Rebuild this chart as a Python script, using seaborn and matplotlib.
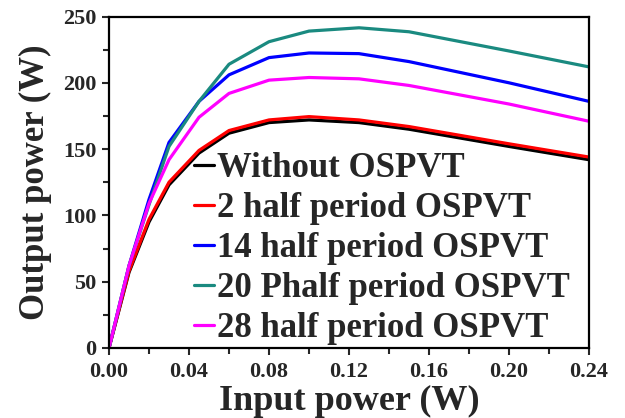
import matplotlib
matplotlib.use("Agg")
import matplotlib.pyplot as plt
import numpy as np
import pandas as pd
import seaborn as sns
from matplotlib.ticker import MultipleLocator

# Input power (W)
input_power = [0.0, 0.01, 0.02, 0.03, 0.045, 0.06, 0.08, 0.10, 0.125, 0.15, 0.20, 0.24]

# Output power (W) for each configuration
without_ospvt = [0, 57, 95, 123, 147, 162, 170, 172, 170, 165, 152, 142]
half_2 = [0, 58, 97, 125, 149, 164, 172, 174.5, 172, 167, 154, 144]
half_14 = [0, 62, 112, 155, 186, 206, 219, 222.5, 222, 216, 200, 186]
phalf_20 = [0, 62, 108, 152, 186, 214, 231, 239, 241.5, 238.5, 224, 212]
half_28 = [0, 62, 109, 142, 174, 192, 202, 204, 203, 198, 184, 171]

labels = [
    "Without OSPVT",
    "2 half period OSPVT",
    "14 half period OSPVT",
    "20 Phalf period OSPVT",
    "28 half period OSPVT",
]
colors = ["#000000", "#ff0000", "#0000ff", "#1a8a80", "#ff00ff"]

series = [without_ospvt, half_2, half_14, phalf_20, half_28]
df = pd.concat(
    [
        pd.DataFrame({"Input": input_power, "Output": vals, "Case": lab})
        for lab, vals in zip(labels, series)
    ],
    ignore_index=True,
)

sns.set_style("ticks")
plt.rcParams["font.family"] = ["Liberation Serif", "DejaVu Serif"]
plt.rcParams["font.weight"] = "bold"

fig = plt.figure(figsize=(6.25, 4.18), dpi=100)
ax = fig.add_axes([0.1744, 0.1675, 0.768, 0.793])

sns.lineplot(
    data=df,
    x="Input",
    y="Output",
    hue="Case",
    hue_order=labels,
    palette=colors,
    linewidth=2.3,
    ax=ax,
    legend=True,
)

ax.set_xlim(0, 0.24)
ax.set_ylim(0, 250)
ax.xaxis.set_major_locator(MultipleLocator(0.04))
ax.xaxis.set_minor_locator(MultipleLocator(0.02))
ax.yaxis.set_major_locator(MultipleLocator(50))
ax.yaxis.set_minor_locator(MultipleLocator(25))
ax.set_xticklabels([f"{v:.2f}" for v in ax.get_xticks()])

ax.tick_params(axis="both", which="major", direction="out", length=5, width=1.5,
               labelsize=16, top=False, right=False)
ax.tick_params(axis="both", which="minor", direction="out", length=4, width=1.5,
               top=False, right=False)
ax.tick_params(axis="x", which="major", pad=5)
ax.tick_params(axis="y", which="major", pad=4)
for lbl in ax.get_xticklabels() + ax.get_yticklabels():
    lbl.set_fontweight("bold")

for sp in ax.spines.values():
    sp.set_visible(True)
    sp.set_linewidth(1.6)
    sp.set_color("black")

ax.set_xlabel("Input power (W)", fontsize=26, fontweight="bold", labelpad=2)
ax.set_ylabel("Output power (W)", fontsize=25, fontweight="bold", labelpad=8)

handles, _ = ax.get_legend_handles_labels()
leg = ax.legend(
    handles,
    labels,
    loc="lower left",
    bbox_to_anchor=(0.148, -0.032),
    frameon=False,
    handlelength=0.57,
    handletextpad=0.1,
    labelspacing=0.2,
    borderaxespad=0,
    prop={"size": 25, "weight": "bold"},
)

fig.savefig("out.png", dpi=100)
